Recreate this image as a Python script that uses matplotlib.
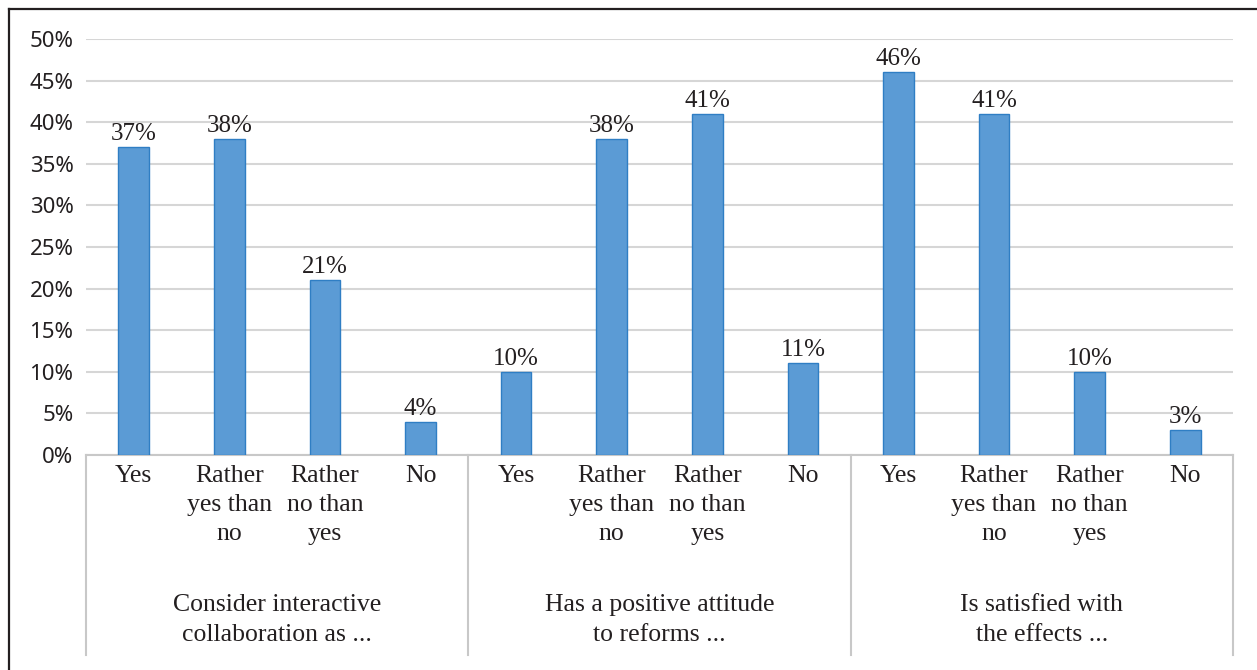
import matplotlib
matplotlib.use("Agg")
import matplotlib.pyplot as plt
import matplotlib.transforms as mtransforms
from matplotlib.lines import Line2D

# Survey answers, three questions with four answer options each
groups = [
    "Consider interactive\ncollaboration as ...",
    "Has a positive attitude\nto reforms ...",
    "Is satisfied with\nthe effects ...",
]
answers = ["Yes", "Rather\nyes than\nno", "Rather\nno than\nyes", "No"]
collaboration = [37, 38, 21, 4]
reforms = [10, 38, 41, 11]
satisfied = [46, 41, 10, 3]
y_ticks = [0, 5, 10, 15, 20, 25, 30, 35, 40, 45, 50]

W, H = 1257, 670
fig = plt.figure(figsize=(W / 100, H / 100), dpi=100)
fig.patch.set_facecolor("white")

left_px, right_px, top_px, bottom_px = 86, 1233, 39, 455
ax = fig.add_axes([left_px / W, 1 - bottom_px / H,
                   (right_px - left_px) / W, (bottom_px - top_px) / H])

values = collaboration + reforms + satisfied
labels = answers * len(groups)
x = list(range(len(values)))

ax.set_axisbelow(True)
ax.yaxis.grid(True, color="#d6d6d6", linewidth=1.5)
ax.bar(x, values, width=0.32, color="#5b9bd5", edgecolor="#2f7ec4",
       linewidth=1.0, zorder=3)

serif = "Liberation Serif"
text_col = "#231f20"
for xi, v in zip(x, values):
    ax.annotate(f"{v}%", (xi, v), xytext=(0, 1.5), textcoords="offset points",
                ha="center", va="bottom", fontsize=18, family=serif,
                color=text_col)

ax.set_xlim(-0.5, len(values) - 0.5)
ax.set_ylim(0, 50)
ax.set_yticks(y_ticks)
ax.set_yticklabels([f"{t}%" for t in y_ticks], family="Noto Sans",
                   fontsize=16, color=text_col)
ax.tick_params(axis="y", length=0, pad=9)
ax.set_xticks([])
for side in ("top", "right", "left"):
    ax.spines[side].set_visible(False)
ax.spines["bottom"].set_color("#c8c8c8")
ax.spines["bottom"].set_linewidth(1.5)

axis_h = bottom_px - top_px
blend = mtransforms.blended_transform_factory(ax.transData, ax.transAxes)

# Group separators below the axis
sep_bottom = -(655 - bottom_px) / axis_h
for g in range(len(groups) + 1):
    xs = g * 4 - 0.5
    ax.add_line(Line2D([xs, xs], [0, sep_bottom], transform=blend,
                       color="#c8c8c8", linewidth=1.5, clip_on=False))

# Answer labels
for xi, lab in zip(x, labels):
    ax.text(xi, -(465 - bottom_px) / axis_h, lab, transform=blend,
            ha="center", va="top", fontsize=18.5, family=serif,
            color=text_col, linespacing=1.42)

# Question labels
for g, name in enumerate(groups):
    ax.text(g * 4 + 1.5, -(620 - bottom_px) / axis_h, name, transform=blend,
            ha="center", va="center", fontsize=18.5, family=serif,
            color=text_col, linespacing=1.42)

# Outer frame (top and left edges)
fig.add_artist(Line2D([9 / W, 1], [1 - 9 / H, 1 - 9 / H],
                      transform=fig.transFigure, color=text_col, linewidth=1.6))
fig.add_artist(Line2D([9 / W, 9 / W], [0, 1 - 9 / H],
                      transform=fig.transFigure, color=text_col, linewidth=1.6))

fig.savefig("out.png", dpi=100)
